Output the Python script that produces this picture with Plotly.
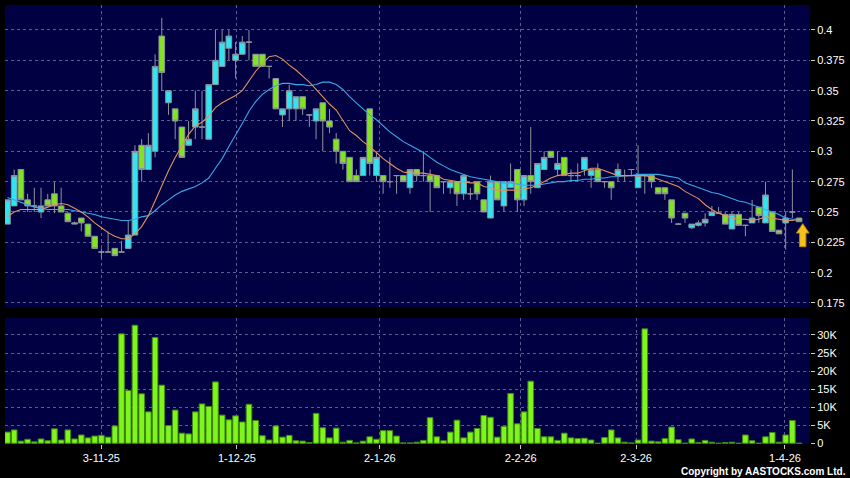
import plotly.graph_objects as go

# ---------------- data ----------------
idx = list(range(119))

opens = [0.24, 0.255, 0.285, 0.26, 0.255, 0.25, 0.26, 0.265, 0.255, 0.249,
         0.24, 0.245, 0.24, 0.23, 0.217, 0.217, 0.22, 0.217, 0.22, 0.231,
         0.305, 0.285, 0.30, 0.395, 0.34, 0.335, 0.32, 0.305, 0.32, 0.32,
         0.31, 0.355, 0.37, 0.385, 0.375, 0.38, 0.39, 0.38, 0.38, 0.37,
         0.36, 0.33, 0.335, 0.335, 0.345, 0.33, 0.325, 0.34, 0.325, 0.31,
         0.30, 0.295, 0.28, 0.28, 0.335, 0.28, 0.28, 0.275, 0.28, 0.28,
         0.27, 0.285, 0.28, 0.28, 0.28, 0.275, 0.27, 0.275, 0.265, 0.265,
         0.275, 0.26, 0.245, 0.275, 0.255, 0.27, 0.285, 0.26, 0.28, 0.27,
         0.285, 0.30, 0.285, 0.295, 0.28, 0.28, 0.285, 0.28, 0.285, 0.275,
         0.275, 0.28, 0.28, 0.285, 0.27, 0.28, 0.28, 0.27, 0.27, 0.26,
         0.24, 0.249, 0.237, 0.239, 0.241, 0.247, 0.249, 0.248, 0.236, 0.248,
         0.239, 0.241, 0.254, 0.241, 0.25, 0.235, 0.241, 0.25, 0.245]

highs = [0.26, 0.285, 0.285, 0.265, 0.27, 0.27, 0.265, 0.275, 0.27, 0.25,
         0.242, 0.245, 0.24, 0.23, 0.22, 0.234, 0.22, 0.226, 0.243, 0.305,
         0.31, 0.315, 0.38, 0.41, 0.35, 0.335, 0.32, 0.325, 0.35, 0.35,
         0.355, 0.40, 0.40, 0.40, 0.39, 0.395, 0.40, 0.38, 0.38, 0.37,
         0.36, 0.335, 0.355, 0.345, 0.345, 0.33, 0.335, 0.34, 0.335, 0.315,
         0.30, 0.295, 0.285, 0.295, 0.335, 0.30, 0.28, 0.295, 0.28, 0.28,
         0.285, 0.285, 0.30, 0.285, 0.28, 0.275, 0.275, 0.275, 0.28, 0.27,
         0.275, 0.26, 0.28, 0.275, 0.275, 0.29, 0.285, 0.28, 0.32, 0.29,
         0.30, 0.30, 0.30, 0.295, 0.285, 0.29, 0.295, 0.285, 0.29, 0.275,
         0.275, 0.29, 0.285, 0.285, 0.305, 0.28, 0.28, 0.27, 0.27, 0.26,
         0.241, 0.249, 0.24, 0.243, 0.249, 0.255, 0.254, 0.25, 0.25, 0.25,
         0.239, 0.26, 0.254, 0.275, 0.25, 0.235, 0.25, 0.285, 0.245]

lows = [0.24, 0.255, 0.26, 0.25, 0.25, 0.245, 0.255, 0.249, 0.25, 0.242,
        0.24, 0.234, 0.23, 0.22, 0.212, 0.217, 0.214, 0.217, 0.22, 0.231,
        0.275, 0.285, 0.295, 0.35, 0.33, 0.31, 0.295, 0.305, 0.31, 0.31,
        0.31, 0.355, 0.37, 0.375, 0.36, 0.38, 0.375, 0.37, 0.37, 0.36,
        0.335, 0.32, 0.325, 0.325, 0.33, 0.32, 0.31, 0.30, 0.315, 0.29,
        0.285, 0.275, 0.275, 0.28, 0.28, 0.275, 0.265, 0.27, 0.265, 0.275,
        0.265, 0.275, 0.275, 0.25, 0.27, 0.265, 0.265, 0.255, 0.26, 0.26,
        0.26, 0.25, 0.245, 0.26, 0.25, 0.27, 0.25, 0.255, 0.265, 0.27,
        0.285, 0.295, 0.28, 0.28, 0.275, 0.275, 0.28, 0.27, 0.275, 0.27,
        0.26, 0.275, 0.275, 0.28, 0.27, 0.265, 0.27, 0.265, 0.26, 0.241,
        0.24, 0.241, 0.236, 0.238, 0.238, 0.247, 0.249, 0.24, 0.236, 0.239,
        0.23, 0.241, 0.241, 0.241, 0.234, 0.232, 0.219, 0.245, 0.242]

closes = [0.26, 0.28, 0.26, 0.255, 0.255, 0.255, 0.255, 0.255, 0.25, 0.242,
          0.241, 0.241, 0.23, 0.22, 0.217, 0.217, 0.214, 0.217, 0.231, 0.30,
          0.285, 0.305, 0.37, 0.365, 0.35, 0.325, 0.295, 0.31, 0.335, 0.32,
          0.355, 0.375, 0.39, 0.395, 0.38, 0.39, 0.39, 0.37, 0.37, 0.37,
          0.335, 0.335, 0.35, 0.345, 0.335, 0.33, 0.335, 0.325, 0.32, 0.30,
          0.29, 0.275, 0.275, 0.295, 0.29, 0.295, 0.275, 0.275, 0.28, 0.275,
          0.285, 0.28, 0.28, 0.275, 0.27, 0.275, 0.275, 0.265, 0.28, 0.265,
          0.265, 0.25, 0.275, 0.26, 0.275, 0.275, 0.26, 0.28, 0.275, 0.29,
          0.295, 0.295, 0.29, 0.28, 0.28, 0.28, 0.295, 0.285, 0.275, 0.275,
          0.27, 0.285, 0.28, 0.285, 0.28, 0.28, 0.275, 0.265, 0.265, 0.245,
          0.24, 0.245, 0.24, 0.241, 0.244, 0.25, 0.249, 0.24, 0.248, 0.239,
          0.239, 0.245, 0.247, 0.264, 0.234, 0.232, 0.245, 0.25, 0.242]

ma_short = [0.246, 0.250, 0.252, 0.252, 0.252, 0.252, 0.254, 0.256, 0.257, 0.256,
            0.253, 0.250, 0.246, 0.241, 0.237, 0.233, 0.230, 0.228, 0.228, 0.232,
            0.238, 0.247, 0.259, 0.272, 0.284, 0.295, 0.305, 0.314, 0.321, 0.324,
            0.329, 0.336, 0.340, 0.343, 0.346, 0.350, 0.358, 0.366, 0.372, 0.378,
            0.379, 0.376, 0.371, 0.367, 0.362, 0.357, 0.351, 0.345, 0.339, 0.334,
            0.326, 0.317, 0.313, 0.308, 0.304, 0.299, 0.294, 0.290, 0.286, 0.283,
            0.282, 0.282, 0.282, 0.281, 0.280, 0.277, 0.276, 0.275, 0.275, 0.274,
            0.274, 0.271, 0.270, 0.268, 0.268, 0.268, 0.268, 0.269, 0.270, 0.272,
            0.275, 0.278, 0.280, 0.281, 0.282, 0.282, 0.284, 0.286, 0.286, 0.284,
            0.282, 0.280, 0.280, 0.280, 0.280, 0.280, 0.279, 0.277, 0.275, 0.273,
            0.271, 0.267, 0.264, 0.261, 0.256, 0.252, 0.249, 0.247, 0.245, 0.244,
            0.244, 0.243, 0.244, 0.246, 0.245, 0.244, 0.243, 0.243, 0.244]

ma_long = [0.262, 0.260, 0.258, 0.256, 0.254, 0.253, 0.252, 0.252, 0.252, 0.252,
           0.251, 0.250, 0.249, 0.248, 0.246, 0.245, 0.244, 0.243, 0.243, 0.244,
           0.246, 0.247, 0.251, 0.256, 0.260, 0.264, 0.267, 0.269, 0.271, 0.274,
           0.278, 0.286, 0.294, 0.304, 0.313, 0.323, 0.333, 0.341, 0.347, 0.351,
           0.354, 0.356, 0.356, 0.355, 0.355, 0.354, 0.355, 0.357, 0.357, 0.355,
           0.351, 0.345, 0.340, 0.335, 0.330, 0.326, 0.321, 0.316, 0.312, 0.308,
           0.305, 0.302, 0.299, 0.295, 0.291, 0.288, 0.285, 0.283, 0.281, 0.279,
           0.278, 0.277, 0.276, 0.275, 0.274, 0.274, 0.273, 0.272, 0.272, 0.272,
           0.273, 0.274, 0.275, 0.275, 0.276, 0.276, 0.277, 0.277, 0.278, 0.278,
           0.279, 0.279, 0.280, 0.280, 0.281, 0.281, 0.281, 0.281, 0.280, 0.279,
           0.278, 0.274, 0.272, 0.270, 0.268, 0.266, 0.265, 0.263, 0.261, 0.259,
           0.258, 0.256, 0.254, 0.252, 0.250, 0.248, 0.245, 0.244, 0.244]

volume = [3100, 3700, 600, 1100, 400, 1200, 700, 4000, 900, 3700,
          1200, 2300, 1500, 2000, 2200, 1700, 4800, 30300, 14600, 32700,
          13700, 8700, 29300, 16100, 4900, 9200, 2800, 2600, 8700, 10900,
          10200, 17000, 7800, 6500, 7600, 5900, 10800, 6300, 2100, 900,
          4800, 1700, 2200, 700, 600, 200, 8300, 4300, 1500, 4200,
          300, 800, 100, 600, 1800, 1100, 3500, 3500, 2000, 100,
          100, 300, 800, 7100, 1800, 700, 3100, 6400, 1500, 3100,
          4100, 7700, 7200, 1700, 4700, 13800, 5400, 8700, 17200, 4100,
          1800, 1800, 800, 2800, 1500, 1300, 1400, 900, 0, 1600,
          3700, 1500, 300, 100, 900, 31700, 600, 400, 1300, 4500,
          1000, 0, 1200, 200, 800, 300, 0, 200, 300, 0,
          2300, 700, 0, 1800, 3000, 300, 2300, 6300, 0]

date_tick_pos = [14.0, 34.2, 55.5, 76.5, 93.7, 115.9]
date_tick_text = ["3-11-25", "1-12-25", "2-1-26", "2-2-26", "2-3-26", "1-4-26"]

price_ticks = [0.175, 0.2, 0.225, 0.25, 0.275, 0.3, 0.325, 0.35, 0.375, 0.4]
price_tick_text = ["0.175", "0.2", "0.225", "0.25", "0.275", "0.3", "0.325", "0.35", "0.375", "0.4"]

vol_ticks = [0, 5000, 10000, 15000, 20000, 25000, 30000]
vol_tick_text = ["0", "5K", "10K", "15K", "20K", "25K", "30K"]

# ---------------- styling ----------------
BG = "#000042"
GRID = "#5c5c8e"
CYAN = "#30e4f0"
GREEN = "#80e41e"
WICK = "#8e939c"
ORANGE = "#e0925a"
BLUE = "#3aa8e8"
VFILL = "#7ff51c"
VEDGE = "#3f8a10"
FONT = "Arial, Liberation Sans, sans-serif"

fig = go.Figure()

fig.add_trace(go.Candlestick(
    x=idx, open=opens, high=highs, low=lows, close=closes,
    increasing=dict(fillcolor=CYAN, line=dict(color=WICK, width=1)),
    decreasing=dict(fillcolor=GREEN, line=dict(color=WICK, width=1)),
    whiskerwidth=0, xaxis="x", yaxis="y", showlegend=False, hoverinfo="skip"))

fig.add_trace(go.Scatter(x=idx, y=ma_long, mode="lines", line=dict(color=BLUE, width=1.1),
                         xaxis="x", yaxis="y", showlegend=False, hoverinfo="skip"))
fig.add_trace(go.Scatter(x=idx, y=ma_short, mode="lines", line=dict(color=ORANGE, width=1.1),
                         xaxis="x", yaxis="y", showlegend=False, hoverinfo="skip"))

fig.add_trace(go.Bar(x=idx, y=volume, width=0.84,
                     marker=dict(color=VFILL, line=dict(color=VEDGE, width=1)),
                     xaxis="x2", yaxis="y2", showlegend=False, hoverinfo="skip"))

# arrow under the last candle (positioned from the last candle's data)
ax = idx[-1] + 0.55
tip = lows[-1] - 0.0016
head_base = tip - 0.0078
tail = tip - 0.019
hw, sw = 0.95, 0.47
path = (f"M {ax} {tip} L {ax + hw} {head_base} L {ax + sw} {head_base} L {ax + sw} {tail} "
        f"L {ax - sw} {tail} L {ax - sw} {head_base} L {ax - hw} {head_base} Z")

common_grid = dict(showgrid=True, gridcolor=GRID, griddash="3px,3px", gridwidth=1,
                   zeroline=False, showline=False)

fig.update_layout(
    width=850, height=478,
    margin=dict(l=5, r=38, t=5, b=34),
    paper_bgcolor="#000000", plot_bgcolor=BG,
    font=dict(family=FONT, color="#ffffff", size=11),
    boxgap=0.16, boxgroupgap=0,
    xaxis=dict(domain=[0, 1], anchor="y", range=[-0.37, 119.63],
               tickvals=date_tick_pos, showticklabels=False, ticks="",
               rangeslider=dict(visible=False), **common_grid),
    xaxis2=dict(domain=[0, 1], anchor="y2", range=[-0.37, 119.63], matches="x",
                tickvals=date_tick_pos, ticktext=date_tick_text, ticks="outside",
                ticklen=4, tickcolor="#c8c8c8", tickfont=dict(size=11, color="#ffffff"),
                **common_grid),
    yaxis=dict(domain=[0.3121, 1], anchor="x", range=[0.1717, 0.4206], side="right",
               tickvals=price_ticks, ticktext=price_tick_text, ticks="outside",
               ticklen=4, tickcolor="#c8c8c8", tickfont=dict(size=11, color="#ffffff"),
               **common_grid),
    yaxis2=dict(domain=[0, 0.287], anchor="x2", range=[-200, 34700], side="right",
                tickvals=vol_ticks, ticktext=vol_tick_text, ticks="outside",
                ticklen=4, tickcolor="#c8c8c8", tickfont=dict(size=11, color="#ffffff"),
                **common_grid),
    shapes=[dict(type="path", path=path, xref="x", yref="y",
                 fillcolor="#f6c21a", line=dict(color="#b88400", width=1))],
    annotations=[dict(text="<b>Copyright by AASTOCKS.com Ltd.</b>", xref="paper", yref="paper",
                      x=1.047, y=-0.063, xanchor="right", yanchor="middle", showarrow=False,
                      font=dict(family=FONT, size=10, color="#ffffff"))],
)

fig.write_html("out.html", config={"displayModeBar": False},
               post_script="document.body.style.margin='0';")
